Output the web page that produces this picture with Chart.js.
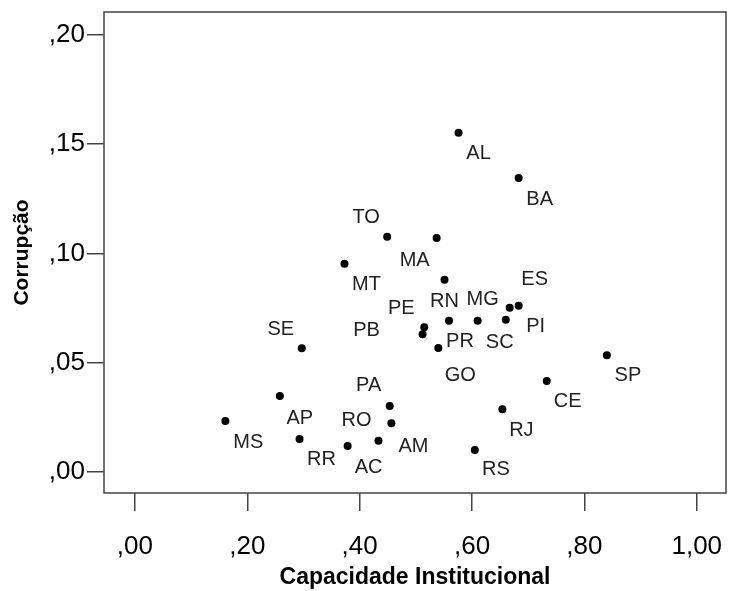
<!DOCTYPE html>
<html>
<head>
<meta charset="utf-8">
<script src="https://cdn.jsdelivr.net/npm/chart.js@4.4.1/dist/chart.umd.min.js"></script>
<style>
  html, body { margin: 0; padding: 0; background: #ffffff; }
  #wrap { width: 730px; height: 591px; }
</style>
</head>
<body>
<div id="wrap"><canvas id="c" width="730" height="591"></canvas></div>
<script>
// ---- data ----
const states     = ['AL','BA','TO','MA','MT','RN','ES','PI','PR','MG','SC','PE','PB','GO','SE','SP','CE','AP','PA','RJ','MS','AM','RR','AC','RO','RS'];
const capacidade = [0.576,0.683,0.449,0.537,0.373,0.551,0.667,0.683,0.559,0.610,0.660,0.515,0.512,0.540,0.297,0.840,0.733,0.258,0.4535,0.654,0.161,0.4565,0.293,0.3786,0.4335,0.605];
const corrupcao  = [0.1551,0.1345,0.1076,0.1070,0.0953,0.0879,0.0752,0.0761,0.0692,0.0692,0.0697,0.0662,0.0630,0.0568,0.0566,0.0534,0.0417,0.0348,0.0303,0.0288,0.0234,0.0224,0.0152,0.0120,0.0144,0.0102];
const xTickValues = [0, 0.2, 0.4, 0.6, 0.8, 1.0];
const yTickValues = [0, 0.05, 0.10, 0.15, 0.20];
const xTitle = 'Capacidade Institucional';
const yTitle = 'Corrupção';

// label placement (pixel offsets from each point)
const labelOffsets = {
  AL:[20,21], BA:[21,22], TO:[-21,-19], MA:[-22,22], MT:[22,21], RN:[0,22],
  ES:[25,-28], PI:[17,21], PR:[11,21], MG:[5,-21], SC:[-6,23], PE:[-23,-19],
  PB:[-56,-4], GO:[22,28], SE:[-21,-19], SP:[21,20], CE:[21,21], AP:[20,22],
  PA:[-21,-20], RJ:[19,21], MS:[23,21], AM:[22,23], RR:[22,21], AC:[21,22],
  RO:[-22,-20], RS:[21,20]
};

const points = capacidade.map((x, i) => ({ x: x, y: corrupcao[i] }));

function fmt(v) {
  let s = Number(v).toFixed(2).replace('.', ',');
  if (s.startsWith('0,')) s = s.slice(1);
  return s;
}

const FONT = "'Liberation Sans', Arial, sans-serif";

const boxPlugin = {
  id: 'box',
  afterDatasetsDraw(chart) {
    const { ctx, chartArea: a } = chart;
    ctx.save();
    ctx.strokeStyle = '#444444';
    ctx.lineWidth = 1.5;
    ctx.strokeRect(a.left, a.top, a.right - a.left, a.bottom - a.top);
    ctx.restore();
  }
};

const labelPlugin = {
  id: 'pointLabels',
  afterDatasetsDraw(chart) {
    const { ctx } = chart;
    const meta = chart.getDatasetMeta(0);
    ctx.save();
    ctx.font = '20px ' + FONT;
    ctx.fillStyle = '#222222';
    ctx.textAlign = 'center';
    ctx.textBaseline = 'middle';
    meta.data.forEach((el, i) => {
      const off = labelOffsets[states[i]] || [20, 20];
      ctx.fillText(states[i], el.x + off[0], el.y + off[1]);
    });
    ctx.restore();
  }
};

new Chart(document.getElementById('c'), {
  type: 'scatter',
  data: {
    datasets: [{
      data: points,
      backgroundColor: '#000000',
      borderColor: '#000000',
      pointRadius: 4,
      pointHoverRadius: 4,
      borderWidth: 0
    }]
  },
  options: {
    responsive: false,
    animation: false,
    events: [],
    layout: { padding: { top: 12, right: 2, left: 0, bottom: 0 } },
    plugins: { legend: { display: false }, tooltip: { enabled: false } },
    scales: {
      x: {
        type: 'linear',
        min: -0.055,
        max: 1.052,
        afterBuildTicks: s => { s.ticks = xTickValues.map(v => ({ value: v })); },
        afterFit: s => { s.height = 98; s.paddingLeft = 0; s.paddingRight = 0; },
        grid: { drawOnChartArea: false, drawTicks: true, tickLength: 18, color: '#444444', lineWidth: 1.5 },
        border: { display: false },
        ticks: { callback: v => fmt(v), color: '#000000', font: { family: FONT, size: 26 }, padding: 20, maxRotation: 0, autoSkip: false },
        title: { display: true, text: xTitle, color: '#000000', font: { family: FONT, size: 23, weight: 'bold' }, padding: { top: 2, bottom: 0 } }
      },
      y: {
        type: 'linear',
        min: -0.0095,
        max: 0.2103,
        afterBuildTicks: s => { s.ticks = yTickValues.map(v => ({ value: v })); },
        afterFit: s => { s.width = 104; s.paddingTop = 0; s.paddingBottom = 0; },
        grid: { drawOnChartArea: false, drawTicks: true, tickLength: 17, color: '#444444', lineWidth: 1.5 },
        border: { display: false },
        ticks: { callback: v => fmt(v), color: '#000000', font: { family: FONT, size: 26 }, padding: 2, autoSkip: false },
        title: { display: true, text: yTitle, color: '#000000', font: { family: FONT, size: 21, weight: 'bold' }, padding: { top: 10, bottom: 6 } }
      }
    }
  },
  plugins: [boxPlugin, labelPlugin]
});
</script>
</body>
</html>
